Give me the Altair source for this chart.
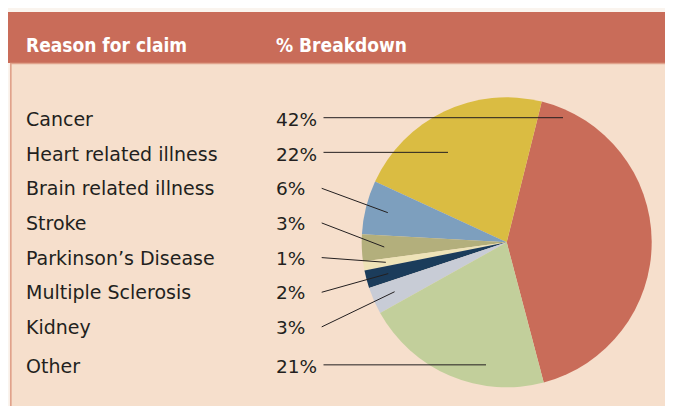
import math
import altair as alt
import pandas as pd

# ---- data ----
categories = ["Cancer", "Heart related illness", "Brain related illness", "Stroke",
              "Parkinson’s Disease", "Multiple Sclerosis", "Kidney", "Other"]
values = [42, 22, 6, 3, 1, 2, 3, 21]
pct_labels = ["42%", "22%", "6%", "3%", "1%", "2%", "3%", "21%"]
# clockwise order of the slices, starting with Cancer
pie_order = [0, 7, 6, 5, 4, 3, 2, 1]
colors = ["#C96C59", "#DABC42", "#7D9FBE", "#B3AF7C",
          "#EEE3B8", "#1B3C5B", "#C8CCD6", "#C2CF9B"]
headers = ["Reason for claim", "% Breakdown"]

# ---- layout ----
W, H = 657, 398
CX, CY, R = 498.7, 234.3, 145
START_DEG = 14.0
TEXT_FONT = "DejaVu Sans"
HEAD_FONT = "DejaVu Sans Condensed, Roboto, DejaVu Sans"
INK = "#231F20"

rows = []
for i, (c, v, p) in enumerate(zip(categories, values, pct_labels)):
    base = 118 + 34.65 * i + (4.6 if i == len(categories) - 1 else 0)
    rows.append(dict(name=c, value=v, pct=p, ypos=base, pie_order=pie_order[i]))
df = pd.DataFrame(rows)

# leader lines: from the percent label to a point inside the slice
cum = {}
acc = START_DEG
for idx in sorted(range(len(categories)), key=lambda k: pie_order[k]):
    span = values[idx] / sum(values) * 360
    cum[idx] = (acc, acc + span)
    acc += span

horizontal_reach = {0: 56.3, 1: -58.7, 7: -20.7}
lead = []
for i, r in df.iterrows():
    x0 = 315.5 if len(r.pct) == 3 else 313.7
    y0 = r.ypos - (8.3 if i in horizontal_reach else 7.0)
    if i in horizontal_reach:
        x1, y1 = CX + horizontal_reach[i], y0
    else:
        a0, a1 = cum[i]
        mid = math.radians((a0 + a1) / 2)
        x1 = CX + 0.845 * R * math.sin(mid)
        y1 = CY - 0.845 * R * math.cos(mid)
    lead.append(dict(x=x0, y=y0, x2=x1, y2=y1))
lead_df = pd.DataFrame(lead)

one = pd.DataFrame({"k": [0]})

header_bar = alt.Chart(one).mark_rect(color="#C96C59").encode(
    x=alt.value(0), x2=alt.value(W + 20), y=alt.value(4), y2=alt.value(55))

panel = alt.Chart(one).mark_rect(fill="#F6DFCC", stroke="#E0A28B", strokeWidth=1.7).encode(
    x=alt.value(2.8), x2=alt.value(W + 20), y=alt.value(55.5), y2=alt.value(H + 20))

head_df = pd.DataFrame({"t": headers, "hx": [18, 268]})
head_text = alt.Chart(head_df).mark_text(
    align="left", baseline="alphabetic", font=HEAD_FONT, fontSize=19,
    fontWeight="bold", color="#FFFFFF").encode(
    x=alt.X("hx:Q", scale=None), y=alt.value(44.3), text="t:N")

pie = alt.Chart(df).mark_arc(outerRadius=R).encode(
    theta=alt.Theta("value:Q", stack=True,
                    scale=alt.Scale(range=[math.radians(START_DEG),
                                           math.radians(START_DEG) + 2 * math.pi])),
    color=alt.Color("name:N", scale=alt.Scale(domain=categories, range=colors), legend=None),
    order=alt.Order("pie_order:Q"),
    x=alt.value(CX), y=alt.value(CY))

names = alt.Chart(df).mark_text(
    align="left", baseline="alphabetic", font=TEXT_FONT, fontSize=19, color=INK).encode(
    x=alt.value(18), y=alt.Y("ypos:Q", scale=None), text="name:N")

pcts = alt.Chart(df).mark_text(
    align="left", baseline="alphabetic", font=TEXT_FONT, fontSize=18.5, color=INK).encode(
    x=alt.value(268), y=alt.Y("ypos:Q", scale=None), text="pct:N")

leaders = alt.Chart(lead_df).mark_rule(color=INK, strokeWidth=1).encode(
    x=alt.X("x:Q", scale=None), y=alt.Y("y:Q", scale=None),
    x2="x2:Q", y2="y2:Q")

chart = alt.layer(header_bar, panel, head_text, pie, names, pcts, leaders).properties(
    width=W, height=H, autosize=alt.AutoSizeParams(type="none"), padding=0,
    background="#FAF4EE"
).configure_view(stroke=None)

chart.save("out.html", embed_options={"renderer": "svg", "actions": False})
